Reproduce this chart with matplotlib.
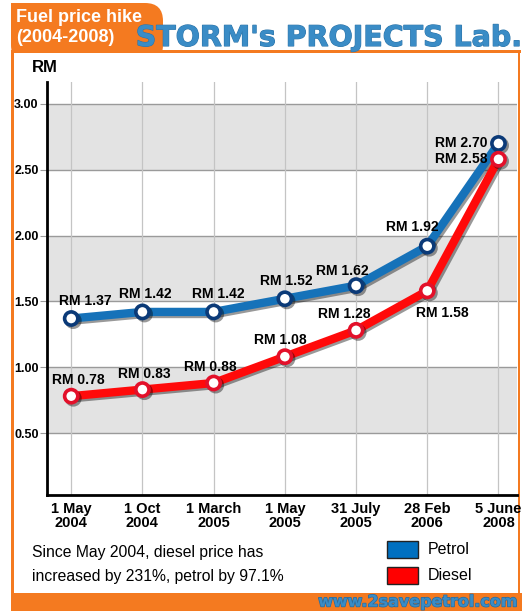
import matplotlib
matplotlib.use("Agg")
import matplotlib.pyplot as plt
import matplotlib.patheffects as pe
from matplotlib.patches import FancyBboxPatch, Rectangle
import numpy as np

plt.rcParams['font.family'] = ['Liberation Sans', 'DejaVu Sans']

# data
dates = ["1 May\n2004", "1 Oct\n2004", "1 March\n2005", "1 May\n2005",
         "31 July\n2005", "28 Feb\n2006", "5 June\n2008"]
petrol = [1.37, 1.42, 1.42, 1.52, 1.62, 1.92, 2.70]
diesel = [0.78, 0.83, 0.88, 1.08, 1.28, 1.58, 2.58]
yticks = [0.50, 1.00, 1.50, 2.00, 2.50, 3.00]
bands = [(0.5, 1.0), (1.5, 2.0), (2.5, 3.0)]

# label offsets in pixels (dx, dy, ha)
petrol_off = [(14, 18, 'center'), (3, 18, 'center'), (5, 18, 'center'), (1, 18, 'center'),
              (-14, 15, 'center'), (-15, 19, 'center'), (-11, 0, 'right')]
diesel_off = [(7, 16, 'center'), (2, 16, 'center'), (-3, 16, 'center'), (-5, 17, 'center'),
              (-12, 16, 'center'), (15, -22, 'center'), (-11, 0, 'right')]

orange = '#f47a20'
blue = '#1672b9'
navy = '#0b3a78'
red = '#ff0a0a'
title_blue = '#3a8cc6'

W, H = 522, 611
fig = plt.figure(figsize=(W / 100, H / 100), dpi=100)

# frame / decoration layer in pixel coords
bg = fig.add_axes([0, 0, 1, 1], zorder=0)
bg.set_xlim(0, W)
bg.set_ylim(H, 0)
bg.axis('off')
bg.add_patch(FancyBboxPatch((11, 3), 152, 60, boxstyle="round,pad=0,rounding_size=18",
                            facecolor=orange, edgecolor='none'))
bg.add_patch(Rectangle((11, 3), 30, 30, facecolor=orange, edgecolor='none'))
bg.add_patch(Rectangle((11, 49.5), 510, 3, facecolor=orange, edgecolor='none'))
bg.add_patch(Rectangle((11, 50), 2.5, 545, facecolor=orange, edgecolor='none'))
bg.add_patch(Rectangle((517.5, 50), 2.5, 545, facecolor=orange, edgecolor='none'))
bg.add_patch(Rectangle((11, 593), 511, 18, facecolor=orange, edgecolor='none'))
bg.add_patch(Rectangle((13.5, 52.5), 504, 540.5, facecolor='white', edgecolor='none'))

bg.text(16, 17, "Fuel price hike", color='white', fontsize=13, fontweight='bold',
        va='center', ha='left')
bg.text(16, 38, "(2004-2008)", color='white', fontsize=13, fontweight='bold',
        va='center', ha='left')
bg.text(522, 38, "STORM's PROJECTS Lab.", color=title_blue, fontsize=20.5, fontweight='bold',
        family='DejaVu Sans', va='center', ha='right',
        path_effects=[pe.withStroke(linewidth=0.8, foreground='#2d74a8')])
bg.text(518, 602, "www.2savepetrol.com", color=title_blue, fontsize=11.5, fontweight='bold',
        family='DejaVu Sans', va='center', ha='right',
        path_effects=[pe.withStroke(linewidth=1, foreground='#2a6a9a')])
bg.text(45, 68, "RM", fontsize=12, fontweight='bold', va='center', ha='center')

bg.text(32, 553, "Since May 2004, diesel price has", fontsize=11.3, va='center', ha='left')
bg.text(32, 577, "increased by 231%, petrol by 97.1%", fontsize=11.3, va='center', ha='left')
bg.add_patch(Rectangle((387, 541), 31, 17, facecolor='#0070c0', edgecolor='#222', lw=1))
bg.add_patch(Rectangle((387, 567), 31, 17, facecolor='#ff0000', edgecolor='#222', lw=1))
bg.text(428, 550, "Petrol", fontsize=11.5, va='center', ha='left')
bg.text(428, 576, "Diesel", fontsize=11.5, va='center', ha='left')

# main chart
ax = fig.add_axes([47 / W, 116 / H, 470 / W, 413 / H], zorder=2)
ax.patch.set_alpha(0)
x = np.arange(len(dates))

for lo, hi in bands:
    ax.axhspan(lo, hi, color='#e3e3e3', zorder=0, lw=0)
for y in yticks:
    ax.axhline(y, color='#9a9a9a', lw=1, zorder=1)
for xi in x:
    ax.axvline(xi, color='#c4c4c4', lw=0.9, zorder=1)

shadow = [pe.SimpleLineShadow(offset=(1.5, -1.5), shadow_color='k', alpha=0.4), pe.Normal()]
ax.plot(x, petrol, color=blue, lw=6, zorder=3, solid_capstyle='round',
        marker='o', markersize=9.5, markerfacecolor='white', markeredgecolor=navy,
        markeredgewidth=2.6, path_effects=shadow)
ax.plot(x, diesel, color=red, lw=6, zorder=3, solid_capstyle='round',
        marker='o', markersize=9.5, markerfacecolor='white', markeredgecolor='#e3102a',
        markeredgewidth=2.6, path_effects=shadow)

for xi, v, (dx, dy, ha) in zip(x, petrol, petrol_off):
    ax.annotate(f"RM {v:.2f}", (xi, v), xytext=(dx, dy), textcoords='offset pixels',
                ha=ha, va='center', fontsize=10, fontweight='bold', zorder=5)
for xi, v, (dx, dy, ha) in zip(x, diesel, diesel_off):
    ax.annotate(f"RM {v:.2f}", (xi, v), xytext=(dx, dy), textcoords='offset pixels',
                ha=ha, va='center', fontsize=10, fontweight='bold', zorder=5)

ax.set_xlim(-0.34, 6.26)
ax.set_ylim(0.029, 3.167)
ax.set_yticks(yticks)
ax.set_yticklabels([f"{t:.2f}" for t in yticks], fontweight='bold', fontsize=9)
ax.set_xticks(x)
ax.set_xticklabels(dates, fontweight='bold', fontsize=10.5, linespacing=1.05)
ax.tick_params(axis='y', length=5, color='#9a9a9a', pad=1)
ax.tick_params(axis='x', length=0, pad=5)
for s in ['top', 'right']:
    ax.spines[s].set_visible(False)
ax.spines['left'].set_linewidth(2)
ax.spines['bottom'].set_linewidth(2)

fig.savefig("out.png", dpi=100)
